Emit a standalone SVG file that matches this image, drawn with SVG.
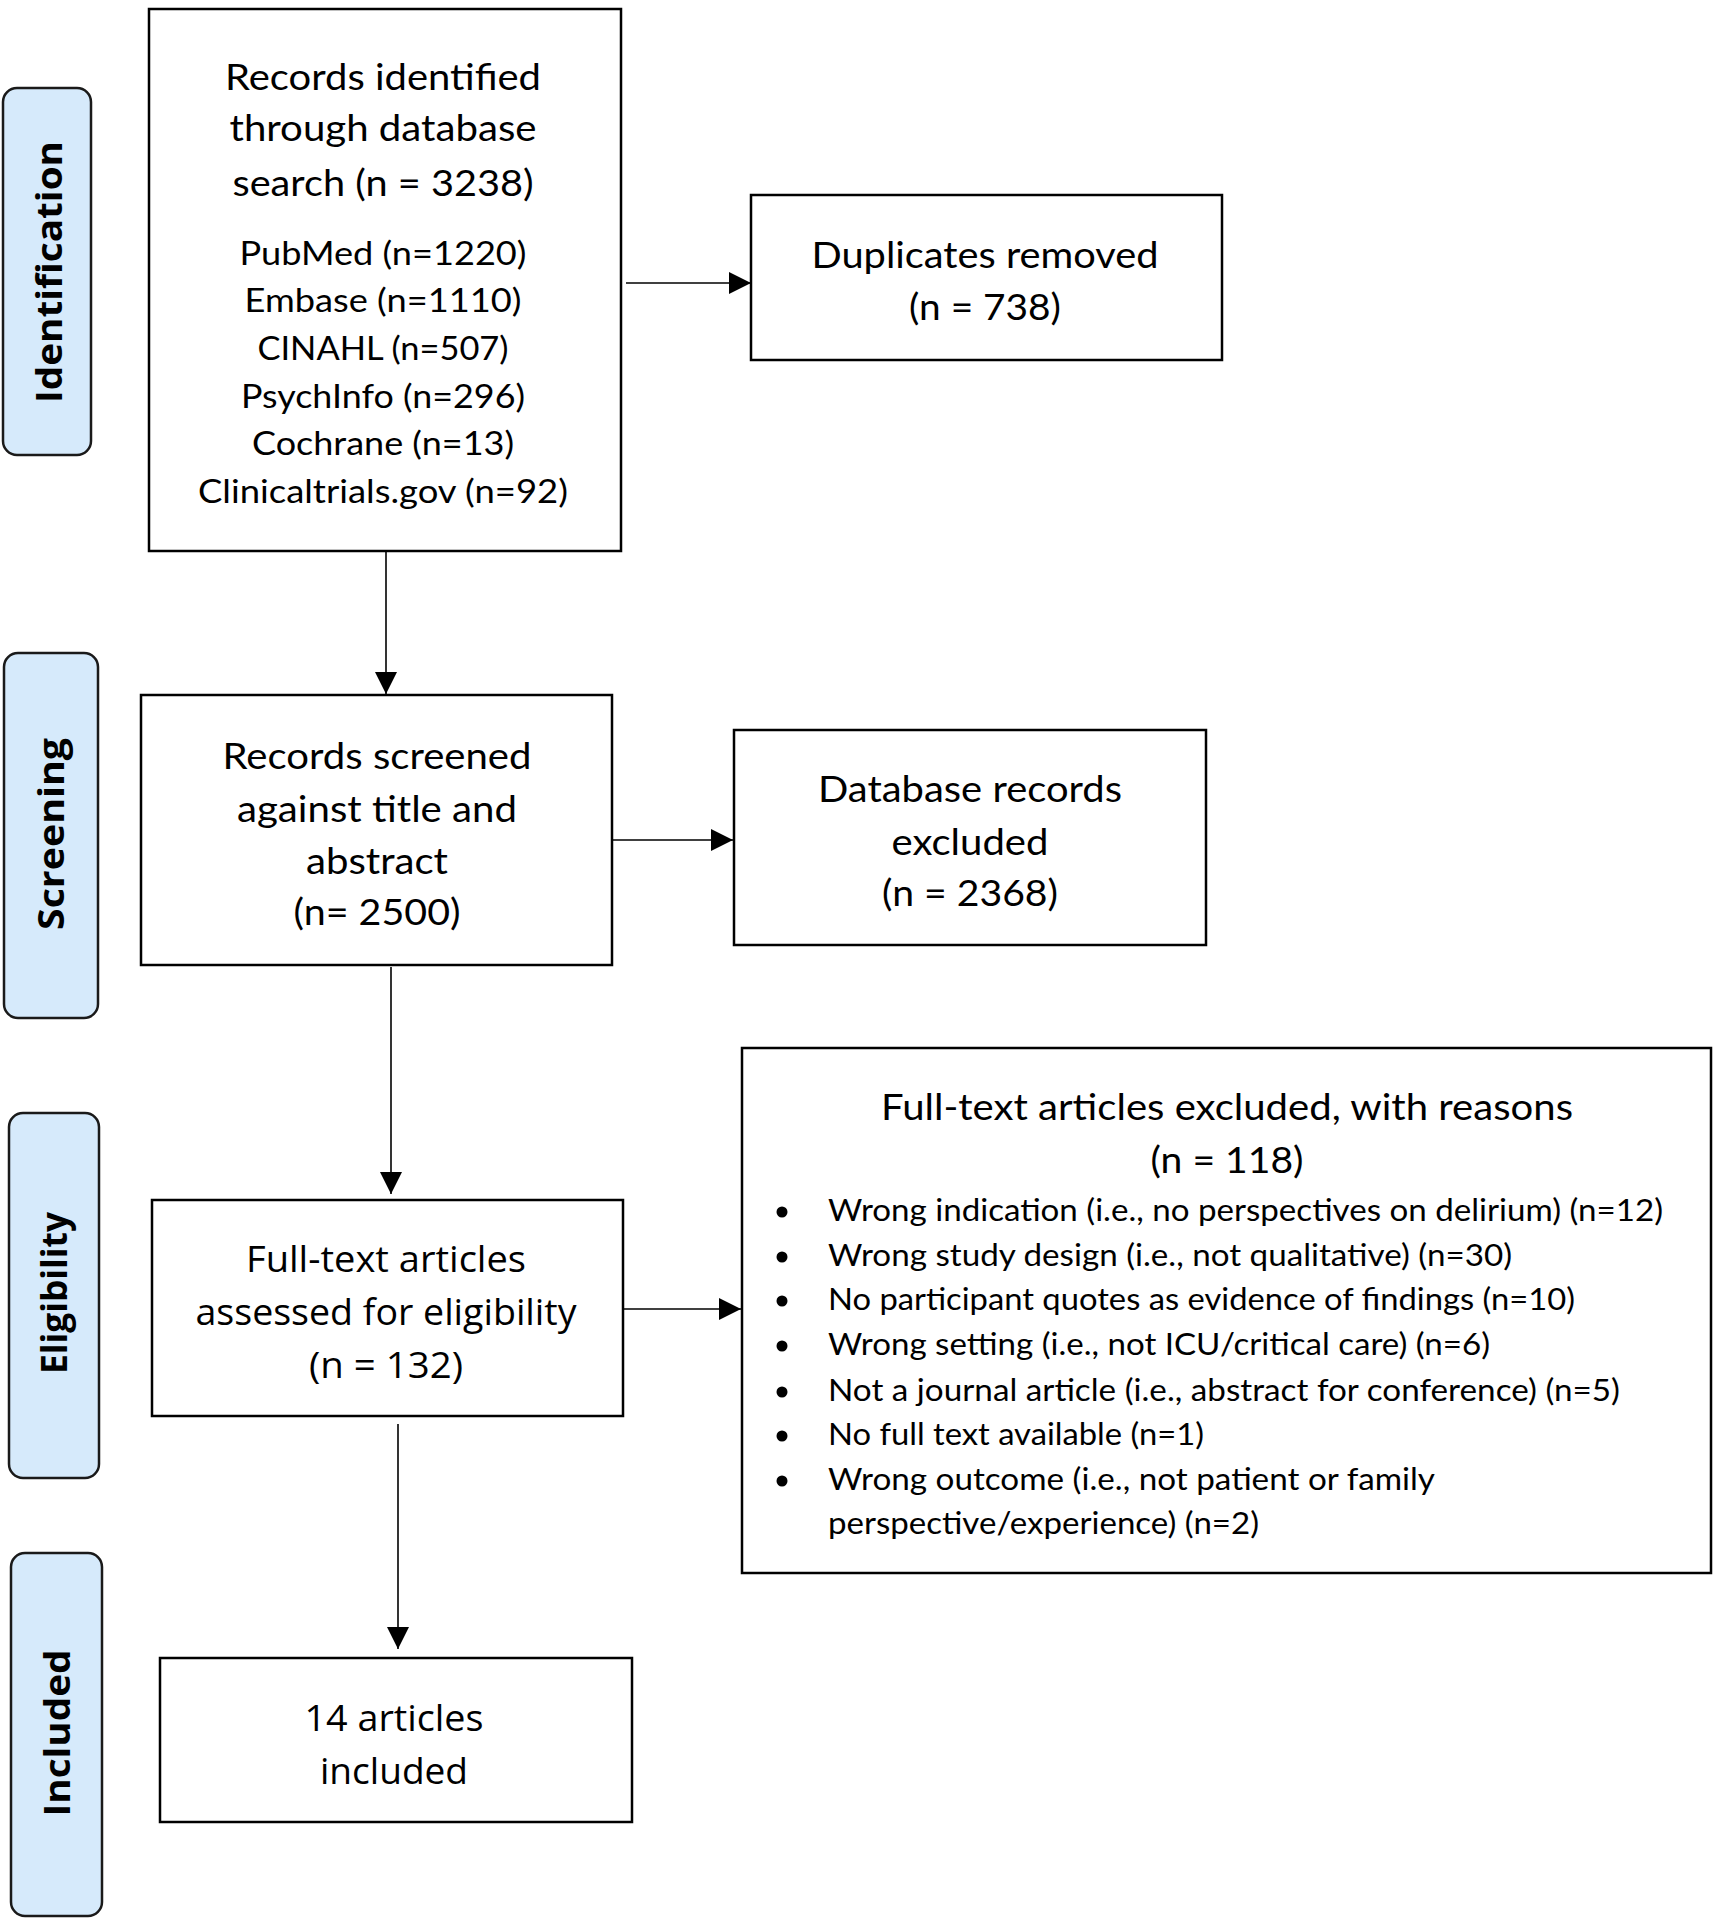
<svg xmlns="http://www.w3.org/2000/svg" width="1713" height="1920" viewBox="0 0 1713 1920">
<style>
.box{fill:#fff;stroke:#000;stroke-width:2.5}
.pill{fill:#d6eafb;stroke:#1a1a1a;stroke-width:2.5}
.pl{font-family:"Open Sans","DejaVu Sans",sans-serif;font-weight:bold;font-size:36px;fill:#000;text-anchor:middle}
.t{font-family:Lato,"Liberation Sans",sans-serif;font-size:37px;fill:#000;text-anchor:middle}
.s{font-family:Lato,"Liberation Sans",sans-serif;font-size:33px;fill:#000;text-anchor:middle}
.b{font-family:Lato,"Liberation Sans",sans-serif;font-size:31px;fill:#000}
.v{font-family:"Open Sans","DejaVu Sans",sans-serif;font-size:36px;fill:#000;text-anchor:middle}
.c{stroke:#000;stroke-width:1.6;fill:none}
</style>
<defs>
<marker id="ah" markerWidth="12" markerHeight="12" refX="10" refY="5" orient="auto" markerUnits="userSpaceOnUse" viewBox="0 0 10 10">
<path d="M0,0 L10,5 L0,10 z" fill="#000"/>
</marker>
<marker id="arr" viewBox="0 0 20 20" refX="20" refY="10" markerWidth="22" markerHeight="22" orient="auto" markerUnits="userSpaceOnUse">
<path d="M0,0 L20,10 L0,20 z" fill="#000"/>
</marker>
</defs>

<g id="stage-identification">
<rect class="pill" x="3" y="88" width="88" height="367" rx="14"/>
<text class="pl" transform="translate(62,272) rotate(-90)" textLength="262" lengthAdjust="spacingAndGlyphs">Identification</text>
</g>
<g id="stage-screening">
<rect class="pill" x="4" y="653" width="94" height="365" rx="14"/>
<text class="pl" transform="translate(64,834) rotate(-90)" textLength="192" lengthAdjust="spacingAndGlyphs">Screening</text>
</g>
<g id="stage-eligibility">
<rect class="pill" x="9" y="1113" width="90" height="365" rx="14"/>
<text class="pl" transform="translate(67,1293) rotate(-90)" textLength="162" lengthAdjust="spacingAndGlyphs">Eligibility</text>
</g>
<g id="stage-included">
<rect class="pill" x="11" y="1553" width="91" height="363" rx="14"/>
<text class="pl" transform="translate(70,1733) rotate(-90)" textLength="167" lengthAdjust="spacingAndGlyphs">Included</text>
</g>

<g id="connectors">
<line class="c" x1="626" y1="283" x2="751" y2="283" marker-end="url(#arr)"/>
<line class="c" x1="386" y1="552" x2="386" y2="694" marker-end="url(#arr)"/>
<line class="c" x1="613" y1="840" x2="733" y2="840" marker-end="url(#arr)"/>
<line class="c" x1="391" y1="967" x2="391" y2="1194" marker-end="url(#arr)"/>
<line class="c" x1="623" y1="1309" x2="741" y2="1309" marker-end="url(#arr)"/>
<line class="c" x1="398" y1="1424" x2="398" y2="1649" marker-end="url(#arr)"/>
</g>

<g id="records-identified">
<rect class="box" x="149" y="9" width="472" height="542"/>
<text class="t" x="383" y="90" textLength="316" lengthAdjust="spacingAndGlyphs">Records identified</text>
<text class="t" x="383" y="141" textLength="307" lengthAdjust="spacingAndGlyphs">through database</text>
<text class="t" x="383" y="196" textLength="301" lengthAdjust="spacingAndGlyphs">search (n = 3238)</text>
<text class="s" x="383" y="265" textLength="287" lengthAdjust="spacingAndGlyphs">PubMed (n=1220)</text>
<text class="s" x="383" y="312" textLength="277" lengthAdjust="spacingAndGlyphs">Embase (n=1110)</text>
<text class="s" x="383" y="360" textLength="251" lengthAdjust="spacingAndGlyphs">CINAHL (n=507)</text>
<text class="s" x="383" y="408" textLength="284" lengthAdjust="spacingAndGlyphs">PsychInfo (n=296)</text>
<text class="s" x="383" y="455" textLength="262" lengthAdjust="spacingAndGlyphs">Cochrane (n=13)</text>
<text class="s" x="383" y="503" textLength="370" lengthAdjust="spacingAndGlyphs">Clinicaltrials.gov (n=92)</text>
</g>

<g id="duplicates-removed">
<rect class="box" x="751" y="195" width="471" height="165"/>
<text class="t" x="985" y="268" textLength="347" lengthAdjust="spacingAndGlyphs">Duplicates removed</text>
<text class="t" x="985" y="320" textLength="152" lengthAdjust="spacingAndGlyphs">(n = 738)</text>
</g>

<g id="records-screened">
<rect class="box" x="141" y="695" width="471" height="270"/>
<text class="t" x="377" y="769" textLength="309" lengthAdjust="spacingAndGlyphs">Records screened</text>
<text class="t" x="377" y="822" textLength="280" lengthAdjust="spacingAndGlyphs">against title and</text>
<text class="t" x="377" y="874" textLength="142" lengthAdjust="spacingAndGlyphs">abstract</text>
<text class="t" x="377" y="925" textLength="167" lengthAdjust="spacingAndGlyphs">(n= 2500)</text>
</g>

<g id="database-records-excluded">
<rect class="box" x="734" y="730" width="472" height="215"/>
<text class="t" x="970" y="802" textLength="304" lengthAdjust="spacingAndGlyphs">Database records</text>
<text class="t" x="970" y="855" textLength="157" lengthAdjust="spacingAndGlyphs">excluded</text>
<text class="t" x="970" y="906" textLength="176" lengthAdjust="spacingAndGlyphs">(n = 2368)</text>
</g>

<g id="full-text-assessed">
<rect class="box" x="152" y="1200" width="471" height="216"/>
<text class="v" x="386" y="1272" textLength="280" lengthAdjust="spacingAndGlyphs">Full-text articles</text>
<text class="v" x="386" y="1325" textLength="381" lengthAdjust="spacingAndGlyphs">assessed for eligibility</text>
<text class="v" x="386" y="1378" textLength="154" lengthAdjust="spacingAndGlyphs">(n = 132)</text>
</g>

<g id="full-text-excluded">
<rect class="box" x="742" y="1048" width="969" height="525"/>
<text class="t" x="1227" y="1120" textLength="692" lengthAdjust="spacingAndGlyphs">Full-text articles excluded, with reasons</text>
<text class="t" x="1227" y="1173" textLength="153" lengthAdjust="spacingAndGlyphs">(n = 118)</text>
<g fill="#000">
<circle cx="782" cy="1212" r="5.5"/>
<circle cx="782" cy="1257" r="5.5"/>
<circle cx="782" cy="1301" r="5.5"/>
<circle cx="782" cy="1346" r="5.5"/>
<circle cx="782" cy="1392" r="5.5"/>
<circle cx="782" cy="1436" r="5.5"/>
<circle cx="782" cy="1481" r="5.5"/>
</g>
<text class="b" x="828" y="1221" textLength="835" lengthAdjust="spacingAndGlyphs">Wrong indication (i.e., no perspectives on delirium) (n=12)</text>
<text class="b" x="828" y="1266" textLength="684" lengthAdjust="spacingAndGlyphs">Wrong study design (i.e., not qualitative) (n=30)</text>
<text class="b" x="828" y="1310" textLength="747" lengthAdjust="spacingAndGlyphs">No participant quotes as evidence of findings (n=10)</text>
<text class="b" x="828" y="1355" textLength="662" lengthAdjust="spacingAndGlyphs">Wrong setting (i.e., not ICU/critical care) (n=6)</text>
<text class="b" x="828" y="1401" textLength="792" lengthAdjust="spacingAndGlyphs">Not a journal article (i.e., abstract for conference) (n=5)</text>
<text class="b" x="828" y="1445" textLength="376" lengthAdjust="spacingAndGlyphs">No full text available (n=1)</text>
<text class="b" x="828" y="1490" textLength="607" lengthAdjust="spacingAndGlyphs">Wrong outcome (i.e., not patient or family</text>
<text class="b" x="828" y="1534" textLength="431" lengthAdjust="spacingAndGlyphs">perspective/experience) (n=2)</text>
</g>

<g id="articles-included">
<rect class="box" x="160" y="1658" width="472" height="164"/>
<text class="v" x="394" y="1731" textLength="179" lengthAdjust="spacingAndGlyphs">14 articles</text>
<text class="v" x="394" y="1784" textLength="148" lengthAdjust="spacingAndGlyphs">included</text>
</g>
</svg>
